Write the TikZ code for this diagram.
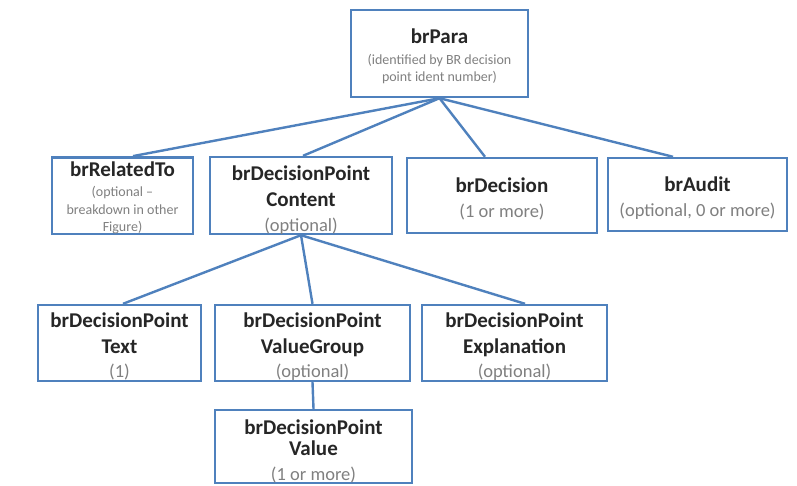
\documentclass[tikz,border=0pt]{standalone}
\usepackage{fontspec}
\setmainfont{Carlito}
\usetikzlibrary{backgrounds}
\definecolor{boxblue}{HTML}{4F81BD}
\definecolor{titlegray}{HTML}{262626}
\definecolor{subgray}{HTML}{808080}
\newcommand\ttl{\fontsize{21}{26}\selectfont\bfseries\color{titlegray}}
\newcommand\subt{\fontsize{18.5}{26}\selectfont\mdseries\color{subgray}}
\newcommand\smallt{\fontsize{14}{26}\selectfont\mdseries\color{subgray}}
\newcommand\dn[1]{\rule{0pt}{#1pt}}
\begin{document}
\begin{tikzpicture}[x=1pt,y=-1pt,
  box/.style={draw=boxblue, line width=2.4pt, fill=white, align=center, inner sep=0pt,
    font=\fontsize{21}{26}\selectfont},
  link/.style={draw=boxblue, line width=2.4pt}]
\useasboundingbox (0,0) rectangle (797,485);

\node[box, minimum width=177, minimum height=87] (para) at (439.5,53.5)
  {\ttl\dn{21}brPara\\[-5pt]\smallt (identified by BR decision\\[-9pt]\smallt point ident number)};
\node[box, minimum width=141, minimum height=75] (relto) at (122.5,195.5)
  {\ttl\dn{19}brRelatedTo\\[-6pt]\smallt (optional --\\[-8pt]\smallt breakdown in other\\[-9pt]\smallt Figure)};
\node[box, minimum width=182, minimum height=75] (content) at (301,195.5)
  {\ttl\dn{23}brDecisionPoint\\\ttl Content\\[-1pt]\subt (optional)};
\node[box, minimum width=190, minimum height=75] (decision) at (502,195.5)
  {\ttl\dn{21}brDecision\\[-1pt]\subt (1 or more)};
\node[box, minimum width=179, minimum height=73] (audit) at (697.5,194.5)
  {\ttl\dn{22}brAudit\\[-1pt]\subt (optional, 0 or more)};
\node[box, minimum width=163, minimum height=76] (text) at (119.5,343)
  {\ttl\dn{22}brDecisionPoint\\\ttl Text\\[-2pt]\subt (1)};
\node[box, minimum width=195, minimum height=76] (vgroup) at (312.5,343)
  {\ttl\dn{22}brDecisionPoint\\\ttl ValueGroup\\[-2pt]\subt (optional)};
\node[box, minimum width=185, minimum height=76] (expl) at (514.5,343)
  {\ttl\dn{22}brDecisionPoint\\\ttl Explanation\\[-2pt]\subt (optional)};
\node[box, minimum width=197, minimum height=73] (value) at (313.5,446.5)
  {\ttl\dn{24}brDecisionPoint\\[-5pt]\ttl Value\\[-1pt]\subt (1 or more)};

\begin{pgfonlayer}{background}
\fill[white] (0,0) rectangle (797,485);
\draw[link] (para.south) -- ([xshift=10.5pt]relto.north);
\draw[link] (para.south) -- ([xshift=2pt]content.north);
\draw[link] (para.south) -- ([xshift=-17pt]decision.north);
\draw[link] (para.south) -- ([xshift=-24.5pt]audit.north);
\draw[link] (content.south) -- ([xshift=3.5pt]text.north);
\draw[link] (content.south) -- (vgroup.north);
\draw[link] (content.south) -- ([xshift=10.5pt]expl.north);
\draw[link] (vgroup.south) -- (value.north);
\end{pgfonlayer}
\end{tikzpicture}
\end{document}
